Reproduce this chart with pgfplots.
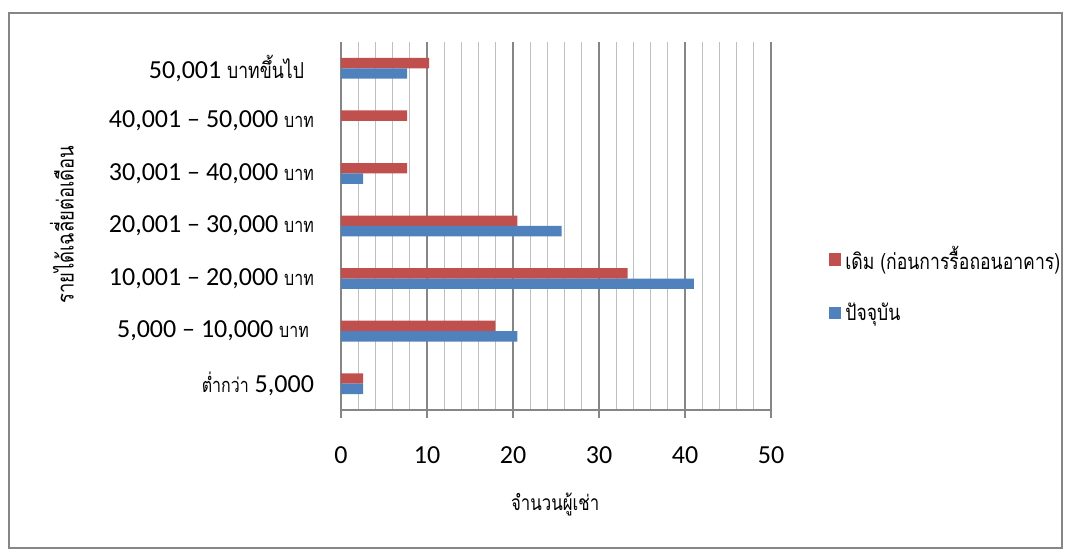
\documentclass[border=0pt]{standalone}
\usepackage{fontspec}
\setmainfont{Carlito}
\newfontfamily\thai[Script=Thai, FakeStretch=0.8]{Loma}
\usepackage{pgfplots}
\pgfplotsset{compat=1.18}

\definecolor{redbar}{HTML}{C0504D}
\definecolor{bluebar}{HTML}{4F81BD}
\definecolor{majgrid}{HTML}{868686}
\definecolor{mingrid}{HTML}{BFBFBF}

\newcommand{\baht}{{\thai\fontsize{10}{11}\selectfont บาท}}

\begin{document}
\begin{tikzpicture}
\begin{axis}[
  scale only axis, width=215pt, height=184pt,
  xmin=0, xmax=50, ymin=-0.5, ymax=6.5,
  xtick={0,10,...,50}, minor x tick num=4,
  xmajorgrids, xminorgrids,
  major grid style={majgrid, line width=0.6pt},
  minor grid style={mingrid, line width=0.6pt},
  axis lines*=left, axis line style={majgrid, line width=0.7pt, -},
  tick align=outside, major tick length=4pt, minor tick length=0pt,
  xtick style={majgrid, line width=0.6pt},
  ytick style={draw=none},
  ytick={0,...,6},
  yticklabels={
    {{\thai\fontsize{10}{11}\selectfont ต่ำกว่า} 5,000},
    {5,000 – 10,000 \baht\kern2.5pt},
    {10,001 – 20,000 \baht},
    {20,001 – 30,000 \baht},
    {30,001 – 40,000 \baht},
    {40,001 – 50,000 \baht},
    {50,001 {\thai\fontsize{11}{12}\selectfont บาทขึ้นไป}\kern5pt}},
  tick label style={font=\fontsize{13}{15}\selectfont},
  /pgf/number format/assume math mode=true,
  y tick label style={anchor=east, xshift=-6pt},
  x tick label style={yshift=-11pt},
  xlabel={\thai\fontsize{10.5}{12}\selectfont จำนวนผู้เช่า},
  xlabel style={at={(axis description cs:0.498,-0.258)}, anchor=center},
  ylabel={\thai\fontsize{11.5}{13}\selectfont รายได้เฉลี่ยต่อเดือน},
  ylabel style={at={(axis description cs:-0.649,0.503)}, anchor=center},
  legend style={draw=none, fill=none, at={(axis description cs:1.133,0.34)},
    anchor=west, font=\thai\fontsize{11}{12}\selectfont,
    row sep=11pt, inner sep=0pt,
    /tikz/every even column/.append style={column sep=3pt}},
  legend cell align=left,
  legend image code/.code={\path[#1,draw=none] (0pt,-3.2pt) rectangle (6.4pt,3.2pt);},
  clip=false,
]
% share of tenants (%) per monthly income band, before demolition
\addplot[xbar, bar width=5.2pt, bar shift=2.6pt, fill=redbar, draw=none]
  coordinates {(2.56,0) (17.95,1) (33.33,2) (20.51,3) (7.69,4) (7.69,5) (10.26,6)};
\addlegendentry{เดิม (ก่อนการรื้อถอนอาคาร)}
% share of tenants (%) per monthly income band, at present
\addplot[xbar, bar width=5.2pt, bar shift=-2.6pt, fill=bluebar, draw=none]
  coordinates {(2.56,0) (20.51,1) (41.03,2) (25.64,3) (2.56,4) (0,5) (7.69,6)};
\addlegendentry{ปัจจุบัน}

\coordinate (bbBL) at (rel axis cs:-0.793,-0.3859);
\coordinate (bbTR) at (rel axis cs:1.6953,1.1141);
\coordinate (frBL) at (rel axis cs:-0.772,-0.375);
\coordinate (frTR) at (rel axis cs:1.677,1.0788);
\end{axis}
\draw[majgrid, line width=0.9pt] (frBL) rectangle (frTR);
\pgfresetboundingbox
\useasboundingbox (bbBL) rectangle (bbTR);
\end{tikzpicture}
\end{document}
